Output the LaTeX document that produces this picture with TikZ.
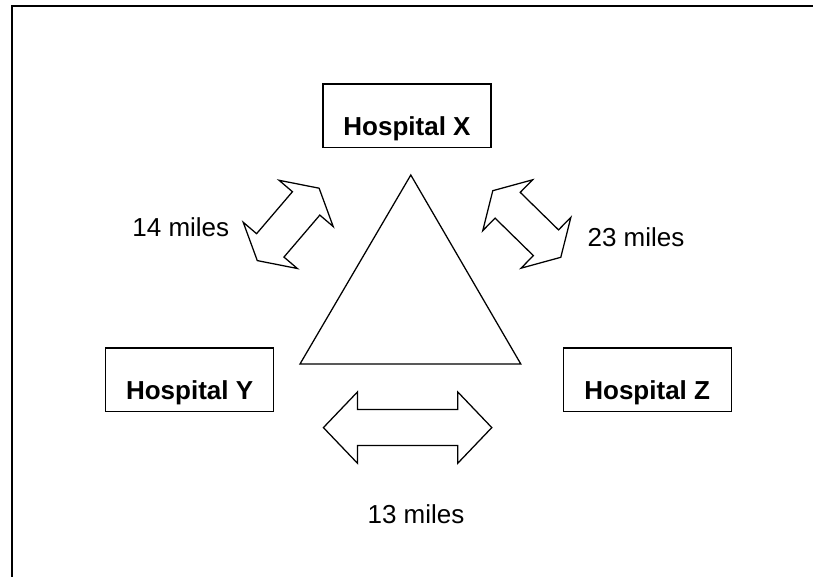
\documentclass[tikz,border=0pt]{standalone}
\usepackage{fontspec}
\setmainfont{Liberation Sans}

\tikzset{
  hospital/.style={draw, line width=0.9pt, minimum width=4.2cm, inner sep=0pt,
    text height=1.29cm, text depth=0.29cm, font=\fontsize{18.5}{22}\selectfont\bfseries},
  distlabel/.style={font=\fontsize{18.5}{22}\selectfont},
  outline/.style={draw, line width=0.9pt, line join=miter},
  pics/twoway/.style 2 args={code={
    \draw[outline] (-#1/2,0) -- (-#1/2+#2,0.89) -- (-#1/2+#2,0.45) -- (#1/2-#2,0.45)
      -- (#1/2-#2,0.89) -- (#1/2,0) -- (#1/2-#2,-0.89) -- (#1/2-#2,-0.45)
      -- (-#1/2+#2,-0.45) -- (-#1/2+#2,-0.89) -- cycle;
  }}
}

\begin{document}
\begin{tikzpicture}
    \useasboundingbox (0,0) rectangle (20.325,14.4);
    % Frame
    \draw[line width=1.4pt] (0.3,-0.5) -- (0.3,14.25) -- (21,14.25);

    % Hospitals
    \node[hospital] (hx) at (10.175,11.51) {Hospital X};
    \node[hospital] (hy) at (4.74,4.91) {Hospital Y};
    \node[hospital] (hz) at (16.18,4.91) {Hospital Z};

    % Triangle
    \draw[outline] (7.5,5.3) -- (10.27,10.025) -- (13.02,5.3) -- cycle;

    % Distance arrows
    \pic[rotate=49.5] at (7.205,8.79) {twoway={2.38}{0.5}};
    \pic[rotate=-44.4] at (13.17,8.8) {twoway={2.38}{0.52}};
    \pic at (10.19,3.71) {twoway={4.21}{0.85}};

    % Distances
    \node[distlabel] (dxy) at (4.52,8.725) {14 miles};
    \node[distlabel] (dxz) at (15.9,8.46) {23 miles};
    \node[distlabel] (dyz) at (10.4,1.55) {13 miles};
\end{tikzpicture}
\end{document}
